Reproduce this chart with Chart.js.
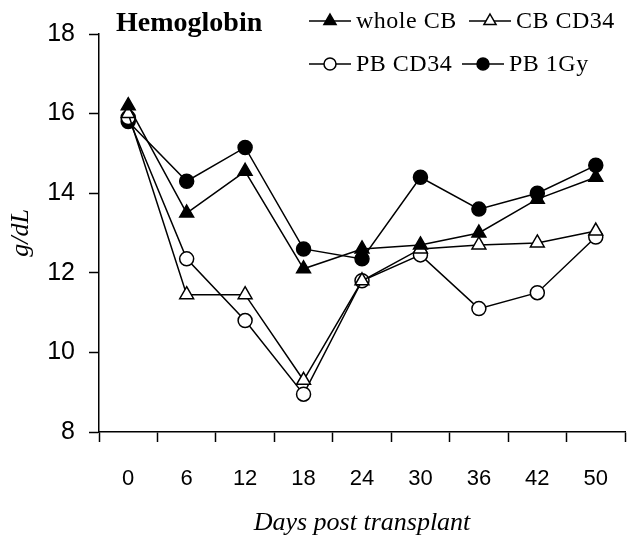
<!DOCTYPE html>
<html lang="en">
<head>
    <meta charset="UTF-8">
    <title>Hemoglobin</title>
    <script src="https://cdn.jsdelivr.net/npm/chart.js@4"></script>
    <style>
        html, body { margin: 0; padding: 0; background: #fff; }
        #wrap { width: 635px; height: 547px; }
    </style>
</head>
<body>
    <div id="wrap"><canvas id="hbChart" width="635" height="547"></canvas></div>
    <script>
        // Días post trasplante (categorías)
        var days = ['0', '6', '12', '18', '24', '30', '36', '42', '50'];

        // Valores de hemoglobina (g/dL) por grupo
        var wholeCB = [16.2, 13.5, 14.55, 12.1, 12.6, 12.7, 13.0, 13.85, 14.4];
        var cbCD34  = [16.0, 11.45, 11.45, 9.3, 11.8, 12.6, 12.7, 12.75, 13.05];
        var pbCD34  = [15.9, 12.35, 10.8, 8.95, 11.8, 12.45, 11.1, 11.5, 12.9];
        var pb1Gy   = [15.8, 14.3, 15.15, 12.6, 12.35, 14.4, 13.6, 14.0, 14.7];

        var yTicks = [8, 10, 12, 14, 16, 18];

        var serif = '"Liberation Serif", "Times New Roman", serif';
        var sans = '"Liberation Sans", Arial, sans-serif';

        function serie(label, data, style, filled, radius) {
            return {
                label: label,
                data: data,
                borderColor: '#000',
                borderWidth: 1.5,
                pointStyle: style,
                pointRadius: radius,
                pointBorderWidth: 1.5,
                pointBorderColor: '#000',
                pointBackgroundColor: filled ? '#000' : '#fff',
                tension: 0,
                fill: false
            };
        }

        var datasets = [
            serie('whole CB', wholeCB, 'triangle', true, 8),
            serie('CB CD34', cbCD34, 'triangle', false, 8),
            serie('PB CD34', pbCD34, 'circle', false, 7),
            serie('PB 1Gy', pb1Gy, 'circle', true, 7)
        ];

        // Leyenda y título dibujados dentro del área
        var legendPlugin = {
            id: 'hbLegend',
            afterDraw: function (chart) {
                var ctx = chart.ctx;
                ctx.save();
                ctx.fillStyle = '#000';
                ctx.font = 'bold 28px ' + serif;
                ctx.textBaseline = 'middle';
                ctx.fillText('Hemoglobin', 116, 24);

                var items = [
                    { ds: 0, x: 309, y: 21 },
                    { ds: 1, x: 469, y: 21 },
                    { ds: 2, x: 309, y: 64 },
                    { ds: 3, x: 462, y: 64 }
                ];
                items.forEach(function (it) {
                    var ds = chart.data.datasets[it.ds];
                    ctx.strokeStyle = '#000';
                    ctx.lineWidth = 1.5;
                    ctx.beginPath();
                    ctx.moveTo(it.x, it.y);
                    ctx.lineTo(it.x + 42, it.y);
                    ctx.stroke();
                    ctx.fillStyle = ds.pointBackgroundColor;
                    ctx.strokeStyle = '#000';
                    Chart.helpers.drawPoint(ctx, {
                        pointStyle: ds.pointStyle,
                        radius: ds.pointRadius - 1,
                        rotation: 0,
                        borderWidth: 1.5
                    }, it.x + 21, it.y);
                    ctx.fillStyle = '#000';
                    ctx.font = '24px ' + serif;
                    ctx.letterSpacing = '0.5px';
                    ctx.textBaseline = 'middle';
                    ctx.fillText(ds.label, it.x + 47, it.y + 1);
                    ctx.letterSpacing = '0px';
                });
                ctx.restore();
            }
        };

        var config = {
            type: 'line',
            data: { labels: days, datasets: datasets },
            options: {
                responsive: false,
                animation: false,
                layout: { padding: { left: 0, top: 34, right: 10, bottom: 0 } },
                plugins: { legend: { display: false }, tooltip: { enabled: false } },
                scales: {
                    x: {
                        type: 'category',
                        offset: true,
                        grid: { offset: true, drawOnChartArea: false, drawTicks: true, tickLength: 10, tickColor: '#000', tickWidth: 1.5 },
                        border: { color: '#000', width: 1.5 },
                        ticks: { color: '#000', font: { family: sans, size: 22 }, padding: 24, maxRotation: 0 },
                        title: { display: true, text: 'Days post transplant', color: '#000', font: { family: serif, size: 26, style: 'italic' }, padding: { top: 0, bottom: 8 } },
                        afterFit: function (s) { s.height = 115; }
                    },
                    y: {
                        min: 8,
                        max: 18,
                        afterBuildTicks: function (s) { s.ticks = yTicks.map(function (v) { return { value: v }; }); },
                        grid: { drawOnChartArea: false, drawTicks: true, tickLength: 10, tickColor: '#000', tickWidth: 1.5 },
                        border: { color: '#000', width: 1.5 },
                        ticks: { color: '#000', font: { family: sans, size: 25 }, padding: 14 },
                        title: { display: true, text: 'g/dL', color: '#000', font: { family: serif, size: 26, style: 'italic' }, padding: { top: 6, bottom: 0 } },
                        afterFit: function (s) { s.width = 99; }
                    }
                }
            },
            plugins: [legendPlugin]
        };

        var hbChart = new Chart(document.getElementById('hbChart'), config);
    </script>
</body>
</html>
